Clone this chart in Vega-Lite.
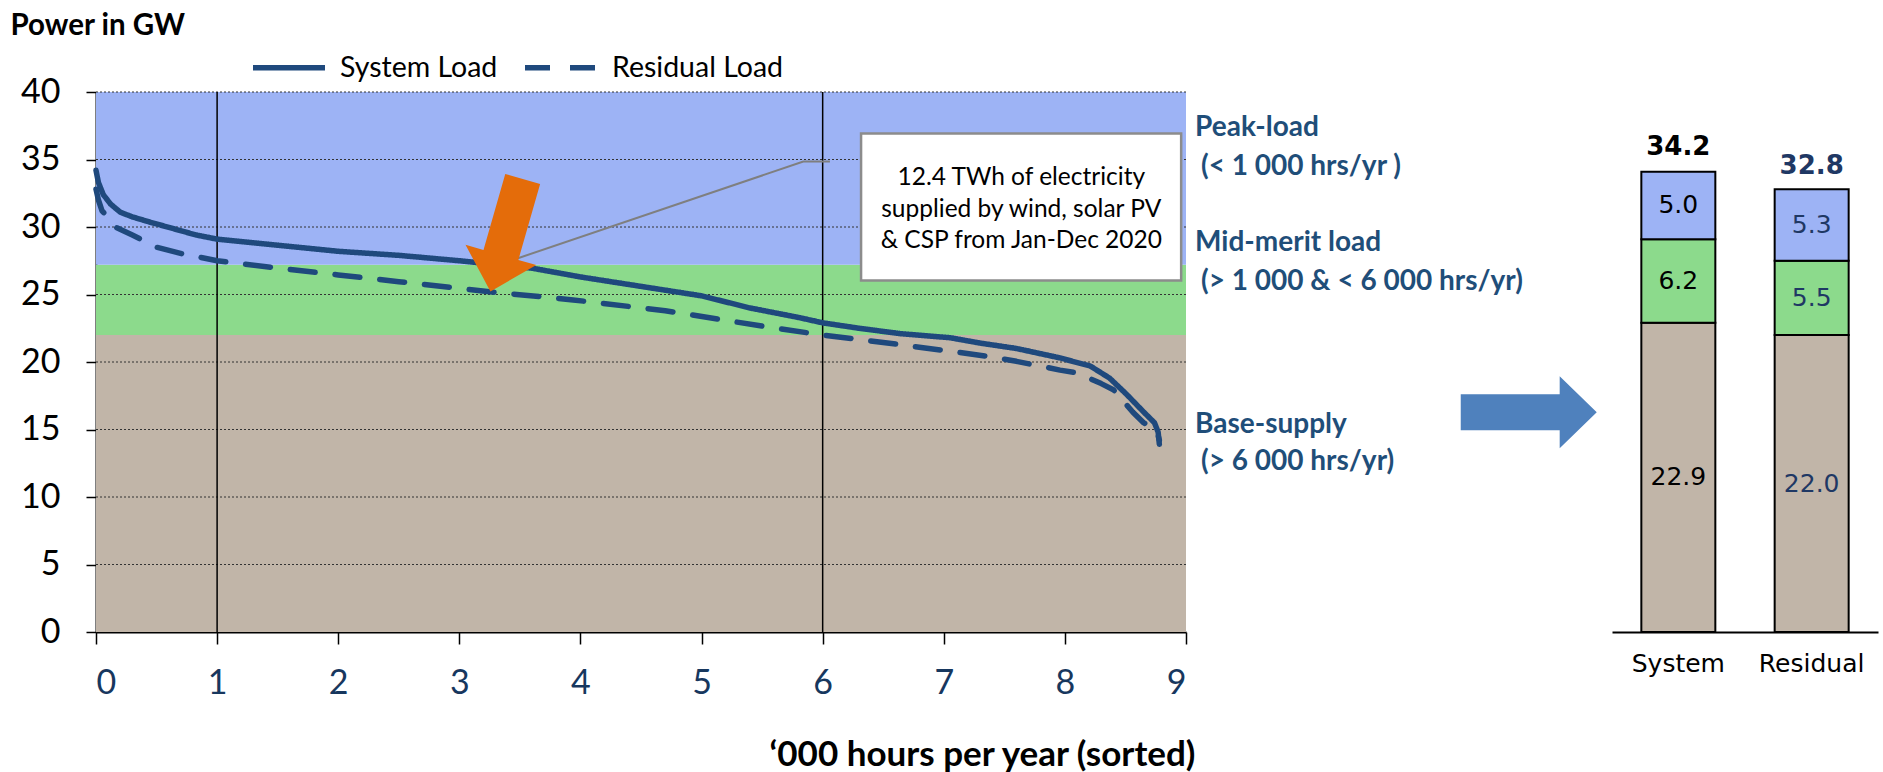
{
  "$schema": "https://vega.github.io/schema/vega-lite/v6.json",
  "padding": {"left": 10, "top": 10, "right": 5, "bottom": 0},
  "background": "white",
  "spacing": 426,
  "bounds": "flush",
  "config": {"view": {"stroke": null}, "font": "Lato"},
  "hconcat": [
    {
      "width": 1090,
      "height": 540,
      "layer": [
        {
          "data": {"values": [
            {"band": "Base", "x0": 0, "x1": 9, "y0": 0, "y1": 22},
            {"band": "Mid", "x0": 0, "x1": 9, "y0": 22, "y1": 27.2},
            {"band": "Peak", "x0": 0, "x1": 9, "y0": 27.2, "y1": 40}
          ]},
          "mark": {"type": "rect"},
          "encoding": {
            "x": {"field": "x0", "type": "quantitative",
              "scale": {"domain": [0, 9], "nice": false, "zero": false},
              "axis": {"values": [0,1,2,3,4,5,6,7,8,9], "format": "d", "grid": false, "tickSize": 12, "tickColor": "black", "tickWidth": 1.5,
                "domainColor": "black", "domainWidth": 2, "labelFont": "Lato", "labelFontSize": 34, "labelColor": "#17375E",
                "labelPadding": 22, "title": "‘000 hours per year (sorted)", "titleFont": "Lato", "titleFontSize": 35,
                "titleFontWeight": "bold", "titleColor": "black", "titleX": 886, "titleY": 133.5, "titleBaseline": "alphabetic", "titleAlign": "center"}},
            "x2": {"field": "x1"},
            "y": {"field": "y0", "type": "quantitative",
              "scale": {"domain": [0, 40], "nice": false},
              "axis": {"values": [0,5,10,15,20,25,30,35,40], "grid": false, "tickSize": 10, "tickColor": "black", "tickWidth": 1.5,
                "domainColor": "black", "domainWidth": 2, "labelFont": "Lato", "labelFontSize": 34, "labelColor": "black",
                "labelPadding": 26, "title": "Power in GW", "titleAngle": 0, "titleAlign": "left", "titleBaseline": "top",
                "titleX": -86, "titleY": -80.5, "titleFont": "Lato", "titleFontSize": 29.5, "titleFontWeight": "bold", "titleColor": "black"}},
            "y2": {"field": "y1"},
            "fill": {"field": "band", "type": "nominal",
              "scale": {"domain": ["Base", "Mid", "Peak"], "range": ["#C1B5A8", "#8CDA8C", "#9DB3F5"]}, "legend": null}
          }
        },
        {
          "data": {"values": [{"g": 5}, {"g": 10}, {"g": 15}, {"g": 20}, {"g": 25}, {"g": 30}, {"g": 35}, {"g": 40}]},
          "mark": {"type": "rule", "color": "#333333", "strokeWidth": 1, "strokeDash": [2, 2]},
          "encoding": {"y": {"field": "g", "type": "quantitative"}}
        },
        {
          "data": {"values": [{"v": 1}, {"v": 6}]},
          "mark": {"type": "rule", "color": "black", "strokeWidth": 1.5},
          "encoding": {"x": {"field": "v", "type": "quantitative"}}
        },
        {
          "data": {"values": [
            {"i": 1, "x": 3.363, "y": 27.32},
            {"i": 2, "x": 5.84, "y": 34.85},
            {"i": 3, "x": 6.06, "y": 34.85}
          ]},
          "mark": {"type": "line", "color": "#7F7F7F", "strokeWidth": 2},
          "encoding": {
            "x": {"field": "x", "type": "quantitative"},
            "y": {"field": "y", "type": "quantitative"},
            "order": {"field": "i"}
          }
        },
        {
          "data": {"values": [
            {"series": "System Load", "x": 0, "y": 34.2},
            {"series": "System Load", "x": 0.02, "y": 33.3},
            {"series": "System Load", "x": 0.06, "y": 32.4},
            {"series": "System Load", "x": 0.12, "y": 31.7},
            {"series": "System Load", "x": 0.2, "y": 31.1},
            {"series": "System Load", "x": 0.3, "y": 30.75},
            {"series": "System Load", "x": 0.45, "y": 30.35},
            {"series": "System Load", "x": 0.65, "y": 29.85},
            {"series": "System Load", "x": 0.83, "y": 29.4},
            {"series": "System Load", "x": 1.0, "y": 29.1},
            {"series": "System Load", "x": 1.5, "y": 28.65},
            {"series": "System Load", "x": 2.0, "y": 28.2},
            {"series": "System Load", "x": 2.5, "y": 27.9},
            {"series": "System Load", "x": 3.0, "y": 27.5},
            {"series": "System Load", "x": 3.6, "y": 26.95},
            {"series": "System Load", "x": 4.0, "y": 26.3},
            {"series": "System Load", "x": 4.5, "y": 25.6},
            {"series": "System Load", "x": 5.0, "y": 24.9},
            {"series": "System Load", "x": 5.4, "y": 24.0},
            {"series": "System Load", "x": 5.8, "y": 23.3},
            {"series": "System Load", "x": 6.0, "y": 22.9},
            {"series": "System Load", "x": 6.3, "y": 22.5},
            {"series": "System Load", "x": 6.64, "y": 22.1},
            {"series": "System Load", "x": 7.05, "y": 21.8},
            {"series": "System Load", "x": 7.3, "y": 21.4},
            {"series": "System Load", "x": 7.6, "y": 21.0},
            {"series": "System Load", "x": 7.96, "y": 20.3},
            {"series": "System Load", "x": 8.21, "y": 19.7},
            {"series": "System Load", "x": 8.37, "y": 18.8},
            {"series": "System Load", "x": 8.51, "y": 17.6},
            {"series": "System Load", "x": 8.65, "y": 16.3},
            {"series": "System Load", "x": 8.74, "y": 15.5},
            {"series": "System Load", "x": 8.77, "y": 14.8},
            {"series": "System Load", "x": 8.78, "y": 13.9},
            {"series": "Residual Load", "x": 0, "y": 32.8},
            {"series": "Residual Load", "x": 0.02, "y": 32.0},
            {"series": "Residual Load", "x": 0.05, "y": 31.2},
            {"series": "Residual Load", "x": 0.09, "y": 30.8},
            {"series": "Residual Load", "x": 0.17, "y": 29.95},
            {"series": "Residual Load", "x": 0.3, "y": 29.4},
            {"series": "Residual Load", "x": 0.39, "y": 29.0},
            {"series": "Residual Load", "x": 0.5, "y": 28.5},
            {"series": "Residual Load", "x": 0.72, "y": 28.0},
            {"series": "Residual Load", "x": 1.0, "y": 27.5},
            {"series": "Residual Load", "x": 1.5, "y": 26.95},
            {"series": "Residual Load", "x": 2.0, "y": 26.45},
            {"series": "Residual Load", "x": 2.5, "y": 25.95},
            {"series": "Residual Load", "x": 3.25, "y": 25.2},
            {"series": "Residual Load", "x": 3.94, "y": 24.6},
            {"series": "Residual Load", "x": 4.7, "y": 23.8},
            {"series": "Residual Load", "x": 5.54, "y": 22.6},
            {"series": "Residual Load", "x": 6.0, "y": 22.0},
            {"series": "Residual Load", "x": 6.5, "y": 21.45},
            {"series": "Residual Load", "x": 7.05, "y": 20.8},
            {"series": "Residual Load", "x": 7.38, "y": 20.4},
            {"series": "Residual Load", "x": 7.6, "y": 20.05},
            {"series": "Residual Load", "x": 7.96, "y": 19.4},
            {"series": "Residual Load", "x": 8.1, "y": 19.2},
            {"series": "Residual Load", "x": 8.3, "y": 18.4},
            {"series": "Residual Load", "x": 8.4, "y": 17.95},
            {"series": "Residual Load", "x": 8.56, "y": 16.3},
            {"series": "Residual Load", "x": 8.65, "y": 15.5},
            {"series": "Residual Load", "x": 8.76, "y": 14.9},
            {"series": "Residual Load", "x": 8.78, "y": 14.2}
          ]},
          "mark": {"type": "line", "color": "#1F497D", "strokeWidth": 5.5, "strokeCap": "round", "strokeJoin": "round"},
          "encoding": {
            "x": {"field": "x", "type": "quantitative"},
            "y": {"field": "y", "type": "quantitative"},
            "strokeDash": {"field": "series", "type": "nominal",
              "scale": {"domain": ["System Load", "Residual Load"], "range": [[1, 0], [25, 20]]},
              "legend": {"orient": "none", "legendX": 154, "legendY": -63.5, "direction": "horizontal", "title": null,
                "symbolType": "stroke", "symbolSize": 5184, "symbolStrokeWidth": 5.5, "symbolStrokeColor": "#1F497D",
                "labelFont": "Lato", "labelFontSize": 28.5, "labelColor": "black", "labelOffset": 12, "columnPadding": 16,
                "padding": 0, "labelLimit": 400}}
          }
        },
        {
          "data": {"values": [{"x": 3.39, "y": 29.39}]},
          "mark": {"type": "point", "shape": "M -0.31,-1 L 0.31,-1 L 0.31,0.35 L 0.63,0.35 L 0,1 L -0.63,0.35 L -0.31,0.35 Z",
            "size": 13689, "angle": 16, "filled": true, "fill": "#E46C0A", "fillOpacity": 1, "strokeWidth": 0},
          "encoding": {
            "x": {"field": "x", "type": "quantitative"},
            "y": {"field": "y", "type": "quantitative"}
          }
        },
        {
          "data": {"values": [{"x0": 6.317, "x1": 8.96, "y0": 26.04, "y1": 36.93}]},
          "mark": {"type": "rect", "fill": "white", "stroke": "#8C8C8C", "strokeWidth": 2.5},
          "encoding": {
            "x": {"field": "x0", "type": "quantitative"},
            "x2": {"field": "x1"},
            "y": {"field": "y0", "type": "quantitative"},
            "y2": {"field": "y1"}
          }
        },
        {
          "data": {"values": [
            {"x": 7.64, "y": 33.61, "t": "12.4 TWh of electricity"},
            {"x": 7.64, "y": 31.27, "t": "supplied by wind, solar PV"},
            {"x": 7.64, "y": 28.93, "t": "& CSP from Jan-Dec 2020"}
          ]},
          "mark": {"type": "text", "font": "Lato", "fontSize": 24.5, "color": "black", "align": "center", "baseline": "middle"},
          "encoding": {
            "x": {"field": "x", "type": "quantitative"},
            "y": {"field": "y", "type": "quantitative"},
            "text": {"field": "t"}
          }
        },
        {
          "data": {"values": [
            {"x": 9.075, "y": 37.32, "t": "Peak-load"},
            {"x": 9.124, "y": 34.48, "t": "(< 1 000 hrs/yr )"},
            {"x": 9.075, "y": 28.8, "t": "Mid-merit load"},
            {"x": 9.124, "y": 25.95, "t": "(> 1 000 & < 6 000 hrs/yr)"},
            {"x": 9.075, "y": 15.3, "t": "Base-supply"},
            {"x": 9.124, "y": 12.6, "t": "(> 6 000 hrs/yr)"}
          ]},
          "mark": {"type": "text", "font": "Lato", "fontSize": 28, "fontWeight": "bold", "color": "#1F4E79", "align": "left", "baseline": "middle"},
          "encoding": {
            "x": {"field": "x", "type": "quantitative"},
            "y": {"field": "y", "type": "quantitative"},
            "text": {"field": "t"}
          }
        },
        {
          "data": {"values": [{"x": 11.83, "y": 16.28}]},
          "mark": {"type": "point", "shape": "M -1,-0.265 L 0.455,-0.265 L 0.455,-0.53 L 1,0 L 0.455,0.53 L 0.455,0.265 L -1,0.265 Z",
            "size": 18496, "filled": true, "fill": "#4F81BD", "fillOpacity": 1, "strokeWidth": 0},
          "encoding": {
            "x": {"field": "x", "type": "quantitative"},
            "y": {"field": "y", "type": "quantitative"}
          }
        }
      ]
    },
    {
      "width": 266,
      "height": 540,
      "layer": [
        {
          "data": {"values": [
            {"cat": "System", "band": "Base", "order": 1, "value": 22.9},
            {"cat": "System", "band": "Mid", "order": 2, "value": 6.2},
            {"cat": "System", "band": "Peak", "order": 3, "value": 5.0},
            {"cat": "Residual", "band": "Base", "order": 1, "value": 22.0},
            {"cat": "Residual", "band": "Mid", "order": 2, "value": 5.5},
            {"cat": "Residual", "band": "Peak", "order": 3, "value": 5.3}
          ]},
          "transform": [
            {"stack": "value", "groupby": ["cat"], "sort": [{"field": "order", "order": "ascending"}], "as": ["v0", "v1"]},
            {"calculate": "(datum.v0 + datum.v1) / 2", "as": "mid"}
          ],
          "layer": [
            {
              "mark": {"type": "bar", "stroke": "black", "strokeWidth": 2},
              "encoding": {
                "x": {"field": "cat", "type": "nominal", "sort": ["System", "Residual"],
                  "scale": {"paddingInner": 0.445, "paddingOuter": 0.22},
                  "axis": {"title": null, "ticks": false, "labelAngle": 0, "domainColor": "black", "domainWidth": 2,
                    "labelFont": "DejaVu Sans", "labelFontSize": 25, "labelColor": "black", "labelPadding": 19}},
                "y": {"field": "v0", "type": "quantitative", "scale": {"domain": [0, 40], "nice": false}, "axis": null},
                "y2": {"field": "v1"},
                "fill": {"field": "band", "type": "nominal",
                  "scale": {"domain": ["Base", "Mid", "Peak"], "range": ["#C1B5A8", "#8CDA8C", "#9DB3F5"]}, "legend": null}
              }
            },
            {
              "mark": {"type": "text", "font": "DejaVu Sans", "fontSize": 25, "align": "center", "baseline": "middle"},
              "encoding": {
                "x": {"field": "cat", "type": "nominal", "sort": ["System", "Residual"]},
                "y": {"field": "mid", "type": "quantitative", "axis": null},
                "text": {"field": "value", "type": "quantitative", "format": ".1f"},
                "color": {"field": "cat", "type": "nominal", "scale": {"domain": ["System", "Residual"], "range": ["black", "#1F3864"]}, "legend": null}
              }
            }
          ]
        },
        {
          "data": {"values": [
            {"cat": "System", "total": 34.2},
            {"cat": "Residual", "total": 32.8}
          ]},
          "mark": {"type": "text", "font": "DejaVu Sans", "fontSize": 26, "fontWeight": "bold", "align": "center", "baseline": "alphabetic", "dy": -15},
          "encoding": {
            "x": {"field": "cat", "type": "nominal", "sort": ["System", "Residual"]},
            "y": {"field": "total", "type": "quantitative", "axis": null},
            "text": {"field": "total", "type": "quantitative", "format": ".1f"},
            "color": {"field": "cat", "type": "nominal", "scale": {"domain": ["System", "Residual"], "range": ["black", "#1F3864"]}, "legend": null}
          }
        }
      ]
    }
  ]
}
